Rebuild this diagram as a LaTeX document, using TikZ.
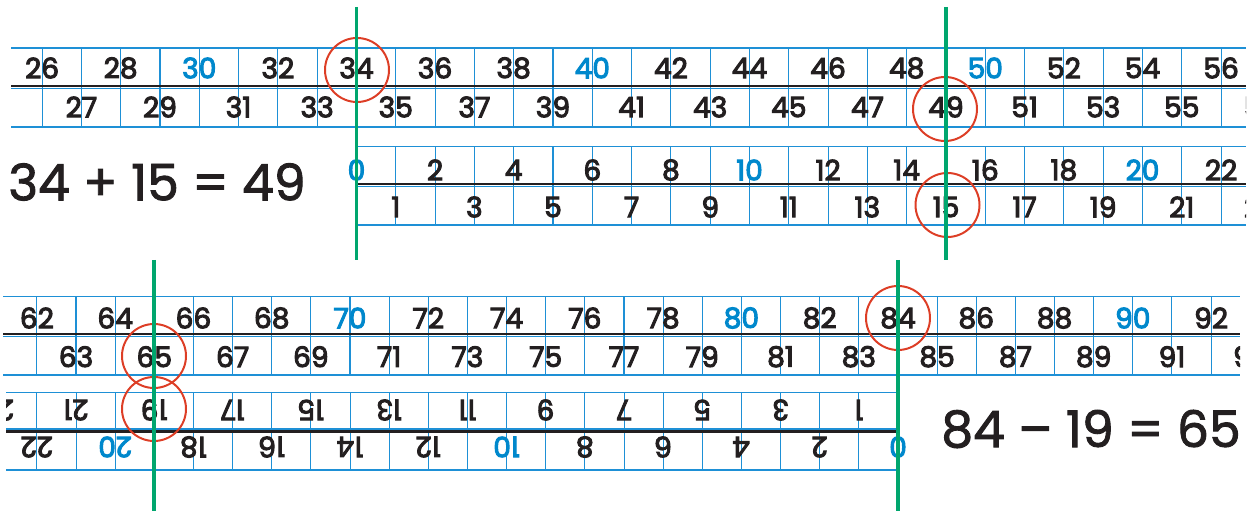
\documentclass[tikz,border=0pt]{standalone}
\usepackage{fontspec}
\setmainfont{Poppins}[FakeBold=3.5]
\newfontfamily\sumfont{Poppins}[FakeBold=1.8]
\usetikzlibrary{positioning}
\definecolor{rulerblue}{RGB}{30,144,214}
\definecolor{numblue}{RGB}{0,136,204}
\definecolor{markgreen}{RGB}{0,166,110}
\definecolor{ringred}{RGB}{221,62,38}
\definecolor{inkblack}{RGB}{35,31,32}
\tikzset{
  tick/.style={draw=rulerblue, line width=0.9pt},
  edge/.style={draw=rulerblue, line width=1.1pt},
  midrule/.style={draw=inkblack, line width=2.1pt},
  num/.style={inner sep=0pt, font=\fontsize{24}{24}\selectfont},
  eqn/.style={inner sep=0pt, text=inkblack, font=\sumfont\fontsize{43}{43}\selectfont},
  ring/.style={circle, draw=ringred, line width=1.7pt, minimum size=1.92cm, inner sep=0pt},
  marker/.style={draw=markgreen, line width=3.4pt}
}
\begin{document}
\begin{tikzpicture}[x=0.03cm, y=-0.03cm]
    \useasboundingbox (0,0) rectangle (1259,511);

    % Top ruler: 26 to 57
    \begin{scope}
        \clip (11,40) rectangle (1246,135);
        \foreach \n in {26,...,57}{
            \pgfmathsetmacro\xx{356.5+(\n-34)*39.3}
            \pgfmathtruncatemacro\r{mod(\n,10)}
            \ifnum\r=0 \def\ink{numblue}\else\def\ink{inkblack}\fi
            \ifodd\n \def\yy{107}\else\def\yy{68}\fi
            \draw[tick] (\xx,48) -- (\xx,127);
            \node[num, text=\ink] (a\n) at (\xx,\yy) {\n};
        }
    \end{scope}
    \draw[edge] (11,48) -- (1246,48);
    \draw[edge] (11,127) -- (1246,127);
    \draw[midrule] (11,86) -- (1246,86);
    \draw[tick] (11,88.7) -- (1246,88.7);

    % Added ruler: 0 to 23
    \begin{scope}
        \clip (330,140) rectangle (1246,232);
        \foreach \n in {0,...,23}{
            \pgfmathsetmacro\xx{356.5+\n*39.3}
            \pgfmathtruncatemacro\r{mod(\n,10)}
            \ifnum\r=0 \def\ink{numblue}\else\def\ink{inkblack}\fi
            \ifodd\n \def\yy{207}\else\def\yy{170}\fi
            \draw[tick] (\xx,146.7) -- (\xx,225);
            \node[num, text=\ink] (b\n) at (\xx,\yy) {\n};
        }
    \end{scope}
    \draw[edge] (356.5,146.7) -- (1246,146.7);
    \draw[edge] (356.5,225) -- (1246,225);
    \draw[midrule] (356.5,184) -- (1246,184);
    \draw[tick] (356.5,186.7) -- (1246,186.7);

    % Lower ruler: 62 to 93
    \begin{scope}
        \clip (3,290) rectangle (1240,382);
        \foreach \n in {62,...,93}{
            \pgfmathsetmacro\xx{154.3+(\n-65)*39.14}
            \pgfmathtruncatemacro\r{mod(\n,10)}
            \ifnum\r=0 \def\ink{numblue}\else\def\ink{inkblack}\fi
            \ifodd\n \def\yy{356.7}\else\def\yy{318}\fi
            \draw[tick] (\xx,296.7) -- (\xx,375);
            \node[num, text=\ink] (c\n) at (\xx,\yy) {\n};
        }
    \end{scope}
    \draw[edge] (3,296.7) -- (1240,296.7);
    \draw[edge] (3,375) -- (1240,375);
    \draw[midrule] (3,334) -- (1240,334);
    \draw[tick] (3,336.7) -- (1240,336.7);

    % Turned ruler: 0 to 23, read right to left
    \begin{scope}
        \clip (6,386) rectangle (920,477);
        \foreach \n in {0,...,23}{
            \pgfmathsetmacro\xx{898-\n*39.14}
            \pgfmathtruncatemacro\r{mod(\n,10)}
            \ifnum\r=0 \def\ink{numblue}\else\def\ink{inkblack}\fi
            \ifodd\n \def\yy{410}\else\def\yy{447}\fi
            \draw[tick] (\xx,392.7) -- (\xx,470);
            \node[num, text=\ink, rotate=180] (d\n) at (\xx,\yy) {\n};
        }
    \end{scope}
    \draw[edge] (6,392.7) -- (898,392.7);
    \draw[edge] (6,470) -- (898,470);
    \draw[tick] (6,429) -- (898,429);
    \draw[midrule] (6,431.7) -- (898,431.7);

    % Rings
    \node[ring] (r34) at (357,70) {};
    \node[ring] (r49) at (945,109) {};
    \node[ring] (r15) at (947.5,205) {};
    \node[ring] (r84) at (898,318) {};
    \node[ring] (r65) at (154,356) {};
    \node[ring] (r19) at (154,409) {};

    % Green markers
    \coordinate (ga) at (356.5,7);   \coordinate (gb) at (356.5,260);
    \coordinate (gc) at (946,7);     \coordinate (gd) at (946,260);
    \coordinate (ge) at (154.3,260); \coordinate (gf) at (154.3,511);
    \coordinate (gg) at (898,260);   \coordinate (gh) at (898,511);
    \draw[marker] (ga) -- (gb);
    \draw[marker] (gc) -- (gd);
    \draw[marker] (ge) -- (gf);
    \draw[marker] (gg) -- (gh);

    % Sums
    \node[eqn] (sum) at (157,182) {34 + 15 = 49};
    \node[eqn] (diff) at (1091,429) {84 – 19 = 65};
\end{tikzpicture}
\end{document}
